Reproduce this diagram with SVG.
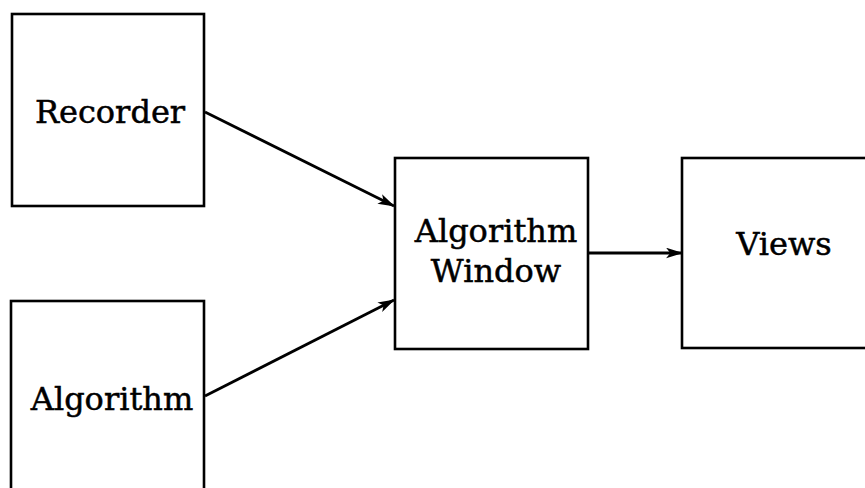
<svg xmlns="http://www.w3.org/2000/svg" width="865" height="488" viewBox="0 0 865 488">
<defs>
<style>
.box{fill:none;stroke:#000;stroke-width:2.6}
.lbl{font-family:"DejaVu Serif","Liberation Serif",serif;font-size:32px;fill:#000;stroke:#000;stroke-width:0.5;text-anchor:middle}
.con{stroke:#000;stroke-width:2.8;fill:none}
</style>
<marker id="ah" viewBox="0 0 16 10" refX="15" refY="5" markerWidth="17" markerHeight="11" markerUnits="userSpaceOnUse" orient="auto">
<path d="M0,0 L16,5 L0,10 L4,5 Z" fill="#000"/>
</marker>
</defs>
<rect width="865" height="488" fill="#fff"/>
<g id="recorder">
<rect class="box" x="12" y="14" width="192" height="192"/>
<text class="lbl" x="110" y="123">Recorder</text>
</g>
<g id="algorithm">
<rect class="box" x="11" y="301" width="193" height="200"/>
<text class="lbl" x="112" y="410">Algorithm</text>
</g>
<g id="algwindow">
<rect class="box" x="395" y="158" width="193" height="191"/>
<text class="lbl" x="496" y="242">Algorithm</text>
<text class="lbl" x="496" y="282">Window</text>
</g>
<g id="views">
<rect class="box" x="682" y="158" width="200" height="190"/>
<text class="lbl" x="784" y="255">Views</text>
</g>
<g id="connectors">
<line class="con" x1="205" y1="112" x2="394" y2="206" marker-end="url(#ah)"/>
<line class="con" x1="205" y1="396" x2="394" y2="300" marker-end="url(#ah)"/>
<line class="con" x1="588" y1="253" x2="682" y2="253" marker-end="url(#ah)"/>
</g>
</svg>
